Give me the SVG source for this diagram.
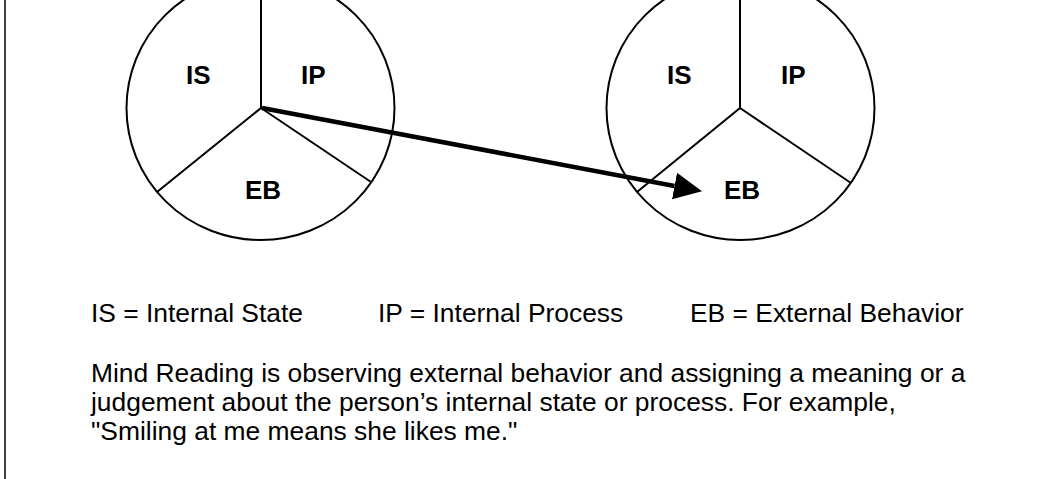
<svg xmlns="http://www.w3.org/2000/svg" width="1047" height="479" viewBox="0 0 1047 479">
<style>
.shape{fill:none;stroke:#000;stroke-width:2}
.lbl{font-family:"Liberation Sans",Arial,sans-serif;font-weight:bold;font-size:26px;fill:#000}
.txt{font-family:"Liberation Sans",Arial,sans-serif;font-size:26.4px;fill:#000}
.conn{fill:none;stroke:#000;stroke-width:4.5}
</style>
<defs>
<marker id="arrow" markerUnits="userSpaceOnUse" markerWidth="32" markerHeight="32" refX="0" refY="13.5" orient="auto" viewBox="0 0 32 32">
<path d="M0,0 L28,13.5 L0,27 Z" fill="#000"/>
</marker>
<clipPath id="clipBottom"><rect x="0" y="0" width="1047" height="446"/></clipPath>
</defs>
<rect width="1047" height="479" fill="#fff"/>
<line x1="5" y1="0" x2="5" y2="479" stroke="#000" stroke-width="1.5"/>
<g id="mind-left">
<ellipse class="shape" cx="260.5" cy="108" rx="134" ry="132"/>
<path class="shape" d="M261,0 V108 L157,192 M261,108 L371,182"/>
<text class="lbl" x="186" y="84">IS</text>
<text class="lbl" x="301" y="84">IP</text>
<text class="lbl" x="245" y="199">EB</text>
</g>
<g id="mind-right">
<ellipse class="shape" cx="740.5" cy="108" rx="134" ry="132"/>
<path class="shape" d="M740,0 V108 L637,192 M740,108 L851,183"/>
<text class="lbl" x="667" y="84">IS</text>
<text class="lbl" x="781" y="84">IP</text>
<text class="lbl" x="724" y="199">EB</text>
</g>
<g id="connectors">
<line class="conn" x1="262" y1="108" x2="674.5" y2="186" marker-end="url(#arrow)"/>
</g>
<g id="legend">
<text class="txt" x="91" y="322">IS = Internal State</text>
<text class="txt" x="378" y="322">IP = Internal Process</text>
<text class="txt" x="690" y="322">EB = External Behavior</text>
</g>
<g id="description">
<text class="txt" x="91" y="382">Mind Reading is observing external behavior and assigning a meaning or a</text>
<text class="txt" x="91" y="411">judgement about the person’s internal state or process. For example,</text>
<text class="txt" x="91" y="440" clip-path="url(#clipBottom)">"Smiling at me means she likes me."</text>
</g>
</svg>
